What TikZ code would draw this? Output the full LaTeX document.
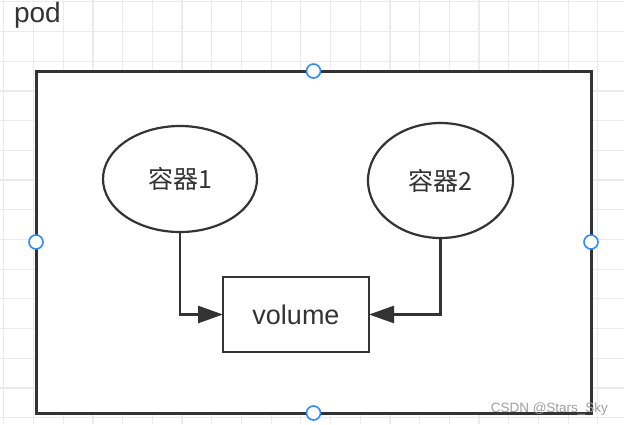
\documentclass[tikz,border=0pt]{standalone}
\usepackage{fontspec}
\setmainfont{Liberation Sans}
\newfontfamily\cjk{Noto Sans CJK SC}
\usetikzlibrary{shapes.geometric,arrows.meta}
\definecolor{linea}{HTML}{333333}
\definecolor{asa}{HTML}{2C8CF4}
\definecolor{rejilla}{HTML}{EBEBEB}
\begin{document}
\begin{tikzpicture}[x=1pt, y=-1pt,
    every node/.style={text=linea, inner sep=0pt, outer sep=0pt},
    rejillalinea/.style={rejilla, line width=1.2pt},
    marco/.style={draw=linea, fill=white, line width=3pt, rectangle,
        minimum width=555pt, minimum height=342pt},
    contenedor/.style={draw=linea, line width=2.2pt, ellipse,
        font=\cjk\fontsize{25}{25}\selectfont},
    volumen/.style={draw=linea, line width=2.6pt, rectangle,
        minimum width=146pt, minimum height=75pt,
        font=\fontsize{27}{27}\selectfont},
    asanodo/.style={circle, draw=asa, fill=white, line width=1.6pt,
        minimum size=14pt},
    flecha/.style={draw=linea, line width=2.6pt,
        -{Triangle[length=25pt,width=17pt]}}]
    \useasboundingbox (0,0) rectangle (624,424);

    % Rejilla de fondo.
    \foreach \i in {0,...,21}
        \draw[rejillalinea] ({3.8+29.7*\i},0) -- ({3.8+29.7*\i},424);
    \foreach \j in {0,...,14}
        \draw[rejillalinea] (0,{1.8+29.7*\j}) -- (624,{1.8+29.7*\j});

    % Marco del pod.
    \node[anchor=base west, font=\fontsize{28}{28}\selectfont] (tpod) at (14,22.5) {pod};
    \node[marco] (pod) at (313.5,242) {};
    \foreach \a in {north,south,east,west}
        \node[asanodo] (asa-\a) at (pod.\a) {};

    % Contenedores y volumen.
    \node[contenedor, minimum width=154pt, minimum height=106pt] (c1) at (180,179) {容器1};
    \node[contenedor, minimum width=145pt, minimum height=115pt] (c2) at (440.5,180.5) {容器2};
    \node[volumen] (vol) at (296,314.5) {volume};

    % Conexiones.
    \draw[flecha] (c1.south) |- (vol.west);
    \draw[flecha] (c2.south) |- (vol.east);

    % Marca de agua.
    \node[anchor=base east, text=gray!75, font=\fontsize{13.5}{13.5}\selectfont] (marca) at (608,412) {CSDN @Stars\_Sky};
\end{tikzpicture}
\end{document}
